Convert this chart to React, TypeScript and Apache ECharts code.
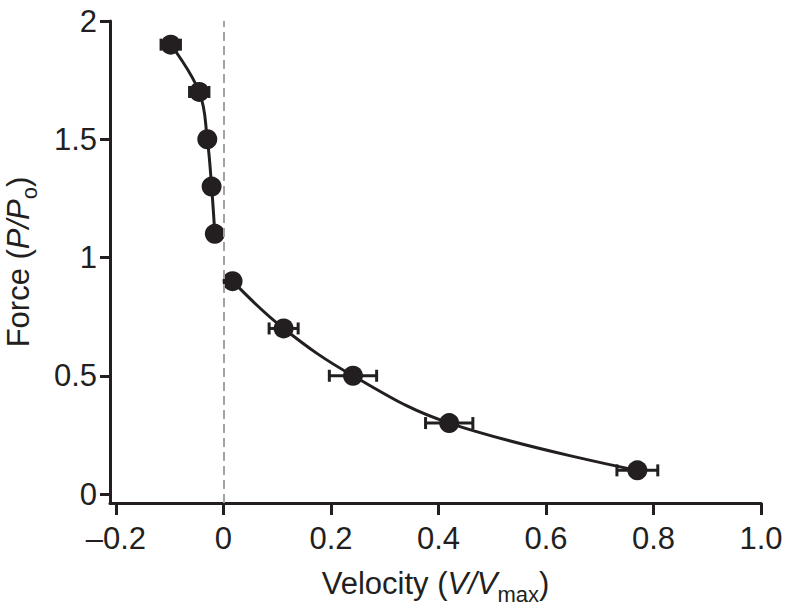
import React, { useEffect, useRef } from "react";
import * as echarts from "echarts";

// Eccentric (lengthening) branch
const upperVelocity = [-0.098, -0.045, -0.03, -0.022, -0.016];
const upperForce = [1.9, 1.7, 1.5, 1.3, 1.1];
const upperError = [0.018, 0.018, 0.008, 0.006, 0.005];

// Concentric (shortening) branch
const lowerVelocity = [0.017, 0.112, 0.241, 0.42, 0.77];
const lowerForce = [0.9, 0.7, 0.5, 0.3, 0.1];
const lowerError = [0.008, 0.027, 0.044, 0.044, 0.038];

const xTicks = [-0.2, 0, 0.2, 0.4, 0.6, 0.8, 1.0];
const yTicks = [0, 0.5, 1, 1.5, 2];

const INK = "#231f20";
const FONT = "'Liberation Sans', Arial, Helvetica, sans-serif";

export default function App() {
  const ref = useRef<HTMLDivElement>(null);

  useEffect(() => {
    if (!ref.current) return;
    const chart = echarts.init(ref.current, null, { renderer: "svg" });

    const upperPts = upperVelocity.map((v, i) => [v, upperForce[i]]);
    const lowerPts = lowerVelocity.map((v, i) => [v, lowerForce[i]]);
    const errData = [
      ...upperVelocity.map((v, i) => [v, upperForce[i], upperError[i]]),
      ...lowerVelocity.map((v, i) => [v, lowerForce[i], lowerError[i]]),
    ];

    const rich = {
      n: { fontSize: 31, fontFamily: FONT, color: INK, lineHeight: 44, verticalAlign: "middle" },
      i: { fontSize: 31, fontFamily: FONT, color: INK, fontStyle: "italic", lineHeight: 44, verticalAlign: "middle" },
      s: { fontSize: 22, fontFamily: FONT, color: INK, lineHeight: 44, verticalAlign: "bottom" },
    };

    const option: any = {
      animation: false,
      backgroundColor: "#ffffff",
      grid: { left: 110, right: 29, top: 21, bottom: 113, containLabel: false, outerBoundsMode: "none" },
      xAxis: {
        type: "value",
        min: -0.211,
        max: 1.0,
        name: "{n|Velocity (}{i|V/V}{s|max}{n|)}",
        nameLocation: "middle",
        nameGap: 58,
        nameTextStyle: { rich, fontSize: 31, fontFamily: FONT, color: INK },
        axisLine: { show: true, onZero: false, lineStyle: { color: INK, width: 3 } },
        axisTick: { show: true, length: 12, customValues: xTicks, lineStyle: { color: INK, width: 3 } },
        axisLabel: {
          customValues: xTicks,
          margin: 20,
          fontSize: 31,
          fontFamily: FONT,
          color: INK,
          formatter: (v: number) => (v < 0 ? "\u2013" + Math.abs(v).toFixed(1) : v === 0 ? "0" : v.toFixed(1)),
        },
        splitLine: { show: false },
      },
      yAxis: {
        type: "value",
        min: -0.038,
        max: 2,
        name: "{n|Force (}{i|P/P}{s|o}{n|)}",
        nameLocation: "middle",
        nameRotate: 90,
        nameGap: 70,
        nameTextStyle: { rich, fontSize: 31, fontFamily: FONT, color: INK },
        axisLine: { show: true, onZero: false, lineStyle: { color: INK, width: 3 } },
        axisTick: { show: true, length: 10, customValues: yTicks, lineStyle: { color: INK, width: 3 } },
        axisLabel: {
          customValues: yTicks,
          margin: 13,
          fontSize: 31,
          fontFamily: FONT,
          color: INK,
          formatter: (v: number) => String(v),
        },
        splitLine: { show: false },
      },
      series: [
        {
          type: "custom",
          name: "error",
          z: 1,
          silent: true,
          data: errData,
          renderItem: (params: any, api: any) => {
            const x = api.value(0);
            const y = api.value(1);
            const e = api.value(2);
            const l = api.coord([x - e, y]);
            const r = api.coord([x + e, y]);
            const h = 6;
            const style = { stroke: INK, lineWidth: 3 };
            return {
              type: "group",
              children: [
                { type: "line", shape: { x1: l[0], y1: l[1], x2: r[0], y2: r[1] }, style },
                { type: "line", shape: { x1: l[0], y1: l[1] - h, x2: l[0], y2: l[1] + h }, style },
                { type: "line", shape: { x1: r[0], y1: r[1] - h, x2: r[0], y2: r[1] + h }, style },
              ],
            };
          },
        },
        {
          type: "line",
          name: "upper",
          z: 3,
          data: upperPts,
          smooth: 0.4,
          symbol: "circle",
          symbolSize: 20,
          itemStyle: { color: INK },
          lineStyle: { color: INK, width: 3 },
          markLine: {
            silent: true,
            symbol: "none",
            label: { show: false },
            lineStyle: { color: "#a3a3a3", width: 2, type: [9, 5] },
            data: [{ xAxis: 0 }],
          },
        },
        {
          type: "line",
          name: "lower",
          z: 3,
          data: lowerPts,
          smooth: 0.4,
          symbol: "circle",
          symbolSize: 20,
          itemStyle: { color: INK },
          lineStyle: { color: INK, width: 3 },
        },
      ],
    };

    chart.setOption(option);
    return () => chart.dispose();
  }, []);

  return (
    <div
      ref={ref}
      style={{ position: "fixed", left: 0, top: 0, width: 790, height: 616, background: "#fff" }}
    />
  );
}
